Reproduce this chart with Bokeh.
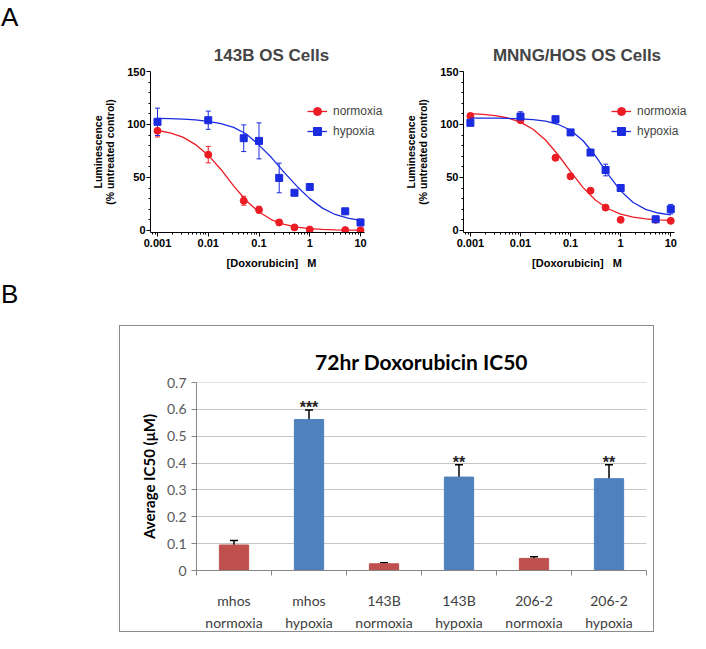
from bokeh.plotting import figure
from bokeh.models import (FixedTicker, Whisker, TeeHead, ColumnDataSource, Legend,
                          LegendItem, Div, Spacer, Range1d)
from bokeh.layouts import row, column
from bokeh.embed import file_html
from bokeh.resources import INLINE
from bokeh.core.properties import value

# ---------------- data: panel A (dose response) ----------------
conc = [0.001, 0.01, 0.05, 0.1, 0.25, 0.5, 1, 5, 10]

os143b_norm_mean = [94, 71.5, 28, 19.5, 7.5, 2.8, 0.8, 0.3, 0.2]
os143b_norm_sem = [5.8, 7.8, 4.2, 3.2, 2.5, 1.0, 0.8, 0.5, 0.5]
os143b_hyp_mean = [102.5, 104, 87, 84.5, 49.5, 35.5, 41, 18, 7.5]
os143b_hyp_sem = [12.9, 8.6, 12.6, 17, 14, 2, 1.5, 2.5, 3]

mnng_norm_mean = [108, 104, 68.5, 51, 37.5, 21.5, 10, 10, 9]
mnng_norm_sem = [2.5, 2.0, 2.5, 1.5, 1.5, 1.2, 1.0, 1.0, 1.0]
mnng_hyp_mean = [101.5, 107.5, 105, 92.5, 73.5, 57, 40, 10.5, 20]
mnng_hyp_sem = [2.0, 4.5, 2.0, 2.5, 2.0, 5.5, 2.0, 2.0, 4.5]

# fitted curves at quarter-decade steps
curve_conc = [0.001, 0.00178, 0.00316, 0.00562, 0.01, 0.0178, 0.0316, 0.0562, 0.1,
              0.178, 0.316, 0.562, 1, 1.78, 3.16, 5.62, 10]
os143b_norm_fit = [94.3, 92.0, 88.0, 81.0, 71.0, 57.5, 42.0, 28.0, 17.3, 10.0, 5.6, 3.1, 1.6, 0.9, 0.5, 0.3, 0.15]
os143b_hyp_fit = [105.7, 105.5, 105.0, 104.3, 103.0, 100.8, 97.2, 91.0, 80.5, 68.5, 54.5, 41.5, 30.0, 21.0, 15.0, 11.5, 9.5]
mnng_norm_fit = [110.2, 109.6, 108.3, 106.1, 102.2, 95.5, 85.3, 71.4, 55.5, 40.4, 28.5, 20.4, 15.4, 12.5, 10.9, 10.0, 9.5]
mnng_hyp_fit = [106.0, 106.0, 105.9, 105.7, 105.3, 104.6, 103.2, 100.2, 94.5, 84.6, 70.0, 52.8, 37.3, 26.3, 19.8, 16.4, 14.6]

dose_x_ticks = [0.001, 0.01, 0.1, 1, 10]
dose_x_labels = ["0.001", "0.01", "0.1", "1", "10"]
dose_y_ticks = [0, 50, 100, 150]
dose_y_minor = [10, 20, 30, 40, 60, 70, 80, 90, 110, 120, 130, 140]
series_names = ["normoxia", "hypoxia"]

# ---------------- data: panel B (IC50 bars) ----------------
ic50_categories = ["mhos\nnormoxia", "mhos\nhypoxia", "143B\nnormoxia",
                   "143B\nhypoxia", "206-2\nnormoxia", "206-2\nhypoxia"]
ic50_condition = ["normoxia", "hypoxia", "normoxia", "hypoxia", "normoxia", "hypoxia"]
ic50_mean = [0.095, 0.562, 0.025, 0.348, 0.045, 0.342]
ic50_err = [0.017, 0.036, 0.004, 0.046, 0.006, 0.052]
ic50_sig = ["", "***", "", "**", "", "**"]
ic50_y_ticks = [0, 0.1, 0.2, 0.3, 0.4, 0.5, 0.6, 0.7]
ic50_y_labels = ["0", "0.1", "0.2", "0.3", "0.4", "0.5", "0.6", "0.7"]

# ---------------- styling ----------------
RED = "#EC1C24"
BLUE = "#1B2BE0"
BAR_COLORS = {"normoxia": "#C0504D", "hypoxia": "#4F81BD"}
AFONT = "Liberation Sans"
BFONT = "Lato"
X_START = 0.000728
X_AXIS_END = 12
NB = "\u00a0"


def dose_panel(title, nm, ns, hm, hs, nfit, hfit, width, bl, br, x_end,
               title_offset, legend_x):
    p = figure(width=width, height=277, x_axis_type="log",
               x_range=Range1d(X_START, x_end), y_range=Range1d(-2, 150),
               output_backend="svg", toolbar_location=None,
               min_border_left=bl, min_border_right=br,
               min_border_top=71, min_border_bottom=45)
    p.outline_line_color = None
    p.grid.grid_line_color = None
    p.title.text = title
    p.title.align = "center"
    p.title.offset = title_offset
    p.title.text_font = AFONT
    p.title.text_font_size = "17px"
    p.title.text_font_style = "bold"
    p.title.standoff = 14

    minor = [m * 10.0 ** e for e in range(-4, 2) for m in range(2, 10)
             if X_START <= m * 10.0 ** e <= X_AXIS_END]
    p.xaxis.ticker = FixedTicker(ticks=dose_x_ticks, minor_ticks=minor)
    p.xaxis.major_label_overrides = dict(zip(dose_x_ticks, dose_x_labels))
    p.xaxis.bounds = (X_START, X_AXIS_END)
    p.yaxis.ticker = FixedTicker(ticks=dose_y_ticks, minor_ticks=dose_y_minor)
    for ax in (p.xaxis, p.yaxis):
        ax.axis_line_color = "black"
        ax.axis_line_width = 1
        ax.major_tick_line_color = "black"
        ax.minor_tick_line_color = "black"
        ax.major_tick_out = 4
        ax.major_tick_in = 0
        ax.minor_tick_out = 2
        ax.minor_tick_in = 0
        ax.major_label_text_font = AFONT
        ax.major_label_text_font_size = "11px"
        ax.major_label_text_font_style = "bold"
        ax.major_label_text_color = "black"
        ax.axis_label_text_font = AFONT
        ax.axis_label_text_font_style = "bold"
        ax.axis_label_text_color = "black"
    p.xaxis.major_label_standoff = 2
    p.yaxis.major_label_standoff = 1
    p.xaxis.axis_label = "[Doxorubicin]" + NB * 3 + "M"
    p.xaxis.axis_label_text_font_size = "11px"
    p.xaxis.axis_label_standoff = 7
    p.yaxis.axis_label = "Luminescence\n(% untreated control)"
    p.yaxis.axis_label_text_font_size = "10.5px"
    p.yaxis.axis_label_text_line_height = 1.0
    p.yaxis.axis_label_standoff = 8

    items = []
    for name, mean, sem, fit, color, marker, size in (
            ("normoxia", nm, ns, nfit, RED, "circle", 7),
            ("hypoxia", hm, hs, hfit, BLUE, "square", 7)):
        src = ColumnDataSource(dict(x=conc, y=mean,
                                    up=[m + s for m, s in zip(mean, sem)],
                                    lo=[m - s for m, s in zip(mean, sem)]))
        line = p.line(curve_conc, fit, line_color=color, line_width=1.3)
        p.add_layout(Whisker(source=src, base="x", upper="up", lower="lo",
                             line_color=color, line_width=1,
                             upper_head=TeeHead(size=5, line_color=color, line_width=1),
                             lower_head=TeeHead(size=5, line_color=color, line_width=1)))
        sc = p.scatter("x", "y", source=src, marker=marker, size=size,
                       fill_color=color, line_color=color)
        items.append(LegendItem(label=name, renderers=[line, sc]))
    legend = Legend(items=items, location=(legend_x, 91), border_line_color=None,
                    background_fill_alpha=0, padding=0, margin=0, spacing=0,
                    glyph_width=20, glyph_height=20, label_height=20,
                    label_standoff=6, label_text_font=AFONT,
                    label_text_font_size="12px")
    p.add_layout(legend)
    return p


pA1 = dose_panel("143B OS Cells", os143b_norm_mean, os143b_norm_sem,
                 os143b_hyp_mean, os143b_hyp_sem, os143b_norm_fit, os143b_hyp_fit,
                 372, 120, 10, 42.7, -14, 157)
pA2 = dose_panel("MNNG/HOS OS Cells", mnng_norm_mean, mnng_norm_sem,
                 mnng_hyp_mean, mnng_hyp_sem, mnng_norm_fit, mnng_hyp_fit,
                 288, 58, 0, 24.8, -8, 148)

# ---------------- panel B ----------------
n = len(ic50_categories)
centers = [i + 0.5 for i in range(n)]
bsrc = ColumnDataSource(dict(
    x=centers, mean=ic50_mean,
    up=[m + e for m, e in zip(ic50_mean, ic50_err)],
    lo=[m - e for m, e in zip(ic50_mean, ic50_err)],
    color=[BAR_COLORS[c] for c in ic50_condition],
    sig=ic50_sig))

pB = figure(width=535, height=307, x_range=Range1d(0, n), y_range=Range1d(0, 0.7001),
            output_backend="svg", toolbar_location=None,
            min_border_left=76, min_border_right=9, min_border_top=56,
            min_border_bottom=57, styles={"border": "1px solid #8c8c8c"})
pB.outline_line_color = None
pB.title.text = "72hr Doxorubicin IC50"
pB.title.align = "center"
pB.title.offset = -34
pB.title.standoff = 18
pB.title.text_font = BFONT
pB.title.text_font_size = "21px"
pB.title.text_font_style = "bold"
pB.title.text_color = "black"

pB.xgrid.grid_line_color = None
pB.ygrid.ticker = FixedTicker(ticks=ic50_y_ticks)
pB.ygrid.grid_line_color = "#c4c4c4"

pB.xaxis.ticker = FixedTicker(ticks=centers, minor_ticks=list(range(n + 1)))
pB.xaxis.major_label_overrides = dict(zip(centers, ic50_categories))
pB.xaxis.major_tick_line_color = None
pB.xaxis.major_tick_out = 0
pB.xaxis.major_tick_in = 0
pB.xaxis.minor_tick_line_color = "#868686"
pB.xaxis.minor_tick_out = 5
pB.xaxis.minor_tick_in = 0
pB.xaxis.axis_line_color = "#868686"
pB.xaxis.major_label_standoff = 16
pB.xaxis.major_label_text_font = BFONT
pB.xaxis.major_label_text_font_size = "14px"
pB.xaxis.major_label_text_color = "#404040"
pB.xaxis.major_label_text_line_height = 1.3

pB.yaxis.ticker = FixedTicker(ticks=ic50_y_ticks)
pB.yaxis.major_label_overrides = dict(zip(ic50_y_ticks, ic50_y_labels))
pB.yaxis.axis_line_color = "#868686"
pB.yaxis.major_tick_line_color = "#868686"
pB.yaxis.major_tick_out = 5
pB.yaxis.major_tick_in = 0
pB.yaxis.minor_tick_line_color = None
pB.yaxis.major_label_standoff = 5
pB.yaxis.major_label_text_font = BFONT
pB.yaxis.major_label_text_font_size = "14px"
pB.yaxis.major_label_text_color = "#595959"
pB.yaxis.axis_label = "Average IC50 (μM)"
pB.yaxis.axis_label_text_font = BFONT
pB.yaxis.axis_label_text_font_size = "15px"
pB.yaxis.axis_label_text_font_style = "bold"
pB.yaxis.axis_label_text_color = "black"
pB.yaxis.axis_label_standoff = 6

pB.vbar(x="x", top="mean", width=0.39, source=bsrc, fill_color="color", line_color="color")
pB.add_layout(Whisker(source=bsrc, base="x", upper="up", lower="lo",
                      line_color="black", line_width=1.5,
                      upper_head=TeeHead(size=8, line_color="black", line_width=1.5),
                      lower_head=TeeHead(size=8, line_color="black", line_width=1.5)))
pB.text(x="x", y="up", text="sig", source=bsrc, text_font=value(AFONT),
        text_font_size="16px", text_font_style="bold", text_color="#222222",
        text_align="center", text_baseline="alphabetic", y_offset=-2)

letter_style = {"font-family": "Liberation Sans", "font-size": "26px",
                "line-height": "34px", "padding-left": "1px"}
divA = Div(text="A", width=30, height=277, margin=0, styles=letter_style)
divB = Div(text="B", width=119, height=356, margin=0, styles=letter_style)

layout = column(row(divA, pA1, pA2),
                row(divB, column(Spacer(width=535, height=48), pB)))

open("out.html", "w").write(file_html(layout, INLINE, title="Doxorubicin"))
